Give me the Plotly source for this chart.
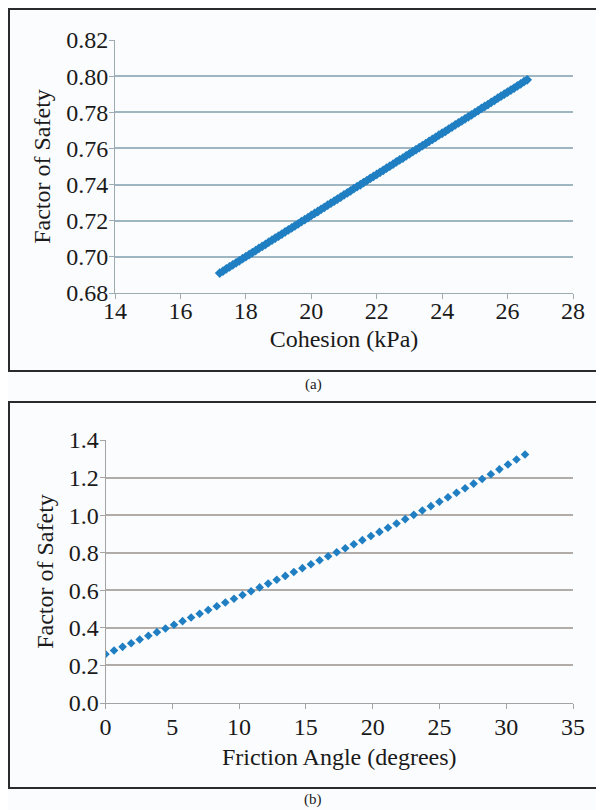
import plotly.graph_objects as go

# ---- data (a): Cohesion vs Factor of Safety ----
cohesion_kpa = [
    17.2, 17.3, 17.4, 17.5, 17.6, 17.7, 17.8, 17.9, 18.0, 18.1,
    18.2, 18.3, 18.4, 18.5, 18.6, 18.7, 18.8, 18.9, 19.0, 19.1,
    19.2, 19.3, 19.4, 19.5, 19.6, 19.7, 19.8, 19.9, 20.0, 20.1,
    20.2, 20.3, 20.4, 20.5, 20.6, 20.7, 20.8, 20.9, 21.0, 21.1,
    21.2, 21.3, 21.4, 21.5, 21.6, 21.7, 21.8, 21.9, 22.0, 22.1,
    22.2, 22.3, 22.4, 22.5, 22.6, 22.7, 22.8, 22.9, 23.0, 23.1,
    23.2, 23.3, 23.4, 23.5, 23.6, 23.7, 23.8, 23.9, 24.0, 24.1,
    24.2, 24.3, 24.4, 24.5, 24.6, 24.7, 24.8, 24.9, 25.0, 25.1,
    25.2, 25.3, 25.4, 25.5, 25.6, 25.7, 25.8, 25.9, 26.0, 26.1,
    26.2, 26.3, 26.4, 26.5, 26.6,
]
fos_cohesion = [
    0.6910, 0.6921, 0.6933, 0.6944, 0.6956, 0.6967, 0.6978, 0.6990, 0.7001, 0.7012,
    0.7024, 0.7035, 0.7047, 0.7058, 0.7069, 0.7081, 0.7092, 0.7104, 0.7115, 0.7126,
    0.7138, 0.7149, 0.7160, 0.7172, 0.7183, 0.7195, 0.7206, 0.7217, 0.7229, 0.7240,
    0.7251, 0.7263, 0.7274, 0.7286, 0.7297, 0.7308, 0.7320, 0.7331, 0.7343, 0.7354,
    0.7365, 0.7377, 0.7388, 0.7399, 0.7411, 0.7422, 0.7434, 0.7445, 0.7456, 0.7468,
    0.7479, 0.7491, 0.7502, 0.7513, 0.7525, 0.7536, 0.7547, 0.7559, 0.7570, 0.7582,
    0.7593, 0.7604, 0.7616, 0.7627, 0.7639, 0.7650, 0.7661, 0.7673, 0.7684, 0.7695,
    0.7707, 0.7718, 0.7730, 0.7741, 0.7752, 0.7764, 0.7775, 0.7786, 0.7798, 0.7809,
    0.7821, 0.7832, 0.7843, 0.7855, 0.7866, 0.7878, 0.7889, 0.7900, 0.7912, 0.7923,
    0.7934, 0.7946, 0.7957, 0.7969, 0.7980,
]

# ---- data (b): Friction angle vs Factor of Safety ----
friction_deg = [
    0.00, 0.64, 1.28, 1.92, 2.56, 3.21, 3.85, 4.49, 5.13, 5.77,
    6.41, 7.05, 7.69, 8.33, 8.97, 9.62, 10.26, 10.90, 11.54, 12.18,
    12.82, 13.46, 14.10, 14.74, 15.38, 16.03, 16.67, 17.31, 17.95, 18.59,
    19.23, 19.87, 20.51, 21.15, 21.79, 22.44, 23.08, 23.72, 24.36, 25.00,
    25.64, 26.28, 26.92, 27.56, 28.20, 28.85, 29.49, 30.13, 30.77, 31.41,
]
fos_friction = [
    0.2600, 0.2794, 0.2989, 0.3183, 0.3378, 0.3576, 0.3771, 0.3966, 0.4162, 0.4358,
    0.4555, 0.4752, 0.4949, 0.5148, 0.5347, 0.5549, 0.5750, 0.5951, 0.6153, 0.6356,
    0.6560, 0.6765, 0.6971, 0.7178, 0.7386, 0.7599, 0.7810, 0.8023, 0.8237, 0.8452,
    0.8669, 0.8888, 0.9109, 0.9332, 0.9557, 0.9787, 1.0016, 1.0247, 1.0480, 1.0714,
    1.0951, 1.1191, 1.1433, 1.1677, 1.1924, 1.2181, 1.2438, 1.2697, 1.2961, 1.3227,
]

# page has an 8px body margin; the figure fills the rest of the 604x810 window
OFF = 8
W, H = 604 - OFF, 810 - OFF
FONT = "Liberation Serif"
BLUE = "#1f7fc2"
BG = "#fbfcfe"

def px(x):
    return (x - OFF) / W

def py(y):
    return 1 - (y - OFF) / H

fig = go.Figure()
fig.add_trace(go.Scatter(x=cohesion_kpa, y=fos_cohesion, mode="markers",
                         marker=dict(symbol="diamond", size=7.5, color=BLUE, line=dict(width=0)),
                         xaxis="x", yaxis="y", showlegend=False))
fig.add_trace(go.Scatter(x=friction_deg, y=fos_friction, mode="markers",
                         marker=dict(symbol="diamond", size=6.6, color=BLUE, line=dict(width=0)),
                         xaxis="x2", yaxis="y2", showlegend=False))

tickfont = dict(family=FONT, size=24, color="#1a1a1a")
titlefont = dict(family=FONT, size=24, color="#1a1a1a")

common_x = dict(showgrid=False, zeroline=False, showline=True, ticks="outside", ticklen=5,
                tickwidth=1, tickfont=tickfont, automargin=False)
common_y = dict(zeroline=False, showline=True, ticks="outside", ticklen=5, tickwidth=1,
                tickfont=tickfont, automargin=False, showgrid=True, gridwidth=1.5,
                ticklabelstandoff=-4)

fig.update_layout(
    width=W, height=H,
    margin=dict(l=0, r=0, t=0, b=0),
    paper_bgcolor=BG, plot_bgcolor=BG,
    showlegend=False,
    xaxis=dict(domain=[px(115), px(573)], anchor="y", range=[14, 28], dtick=2, tick0=14,
               linecolor="#9eabb3", tickcolor="#9eabb3", ticklabelstandoff=-9,
               title=dict(text="Cohesion (kPa)", font=titlefont, standoff=7), **common_x),
    yaxis=dict(domain=[py(293), py(40)], anchor="x", range=[0.68, 0.82], dtick=0.02, tick0=0.68,
               tickformat=".2f", linecolor="#9eabb3", tickcolor="#9eabb3", gridcolor="#9fb5c1",
               title=dict(text="Factor of Safety", font=titlefont, standoff=8), **common_y),
    xaxis2=dict(domain=[px(105.5), px(573)], anchor="y2", range=[0, 35], dtick=5, tick0=0,
                linecolor="#a6a4a2", tickcolor="#a6a4a2", ticklabelstandoff=-3,
                title=dict(text="Friction Angle (degrees)", font=titlefont, standoff=9), **common_x),
    yaxis2=dict(domain=[py(703), py(440)], anchor="x2", range=[0, 1.4], dtick=0.2, tick0=0,
                tickformat=".1f", linecolor="#a6a4a2", tickcolor="#a6a4a2", gridcolor="#b1aca7",
                title=dict(text="Factor of Safety", font=titlefont, standoff=8), **common_y),
    shapes=[
        dict(type="rect", xref="paper", yref="paper", x0=px(9), x1=px(612), y0=py(371), y1=py(9),
             line=dict(color="#2b2b2b", width=2), fillcolor="rgba(0,0,0,0)", layer="below"),
        dict(type="rect", xref="paper", yref="paper", x0=px(9), x1=px(612), y0=py(788), y1=py(402),
             line=dict(color="#2b2b2b", width=2), fillcolor="rgba(0,0,0,0)", layer="below"),
    ],
    annotations=[
        dict(text="(a)", xref="paper", yref="paper", x=px(313), y=py(384), showarrow=False,
             font=dict(family=FONT, size=15, color="#1a1a1a"), xanchor="center", yanchor="middle"),
        dict(text="(b)", xref="paper", yref="paper", x=px(313), y=py(799), showarrow=False,
             font=dict(family=FONT, size=15, color="#1a1a1a"), xanchor="center", yanchor="middle"),
    ],
)

fig.write_html("out.html")
